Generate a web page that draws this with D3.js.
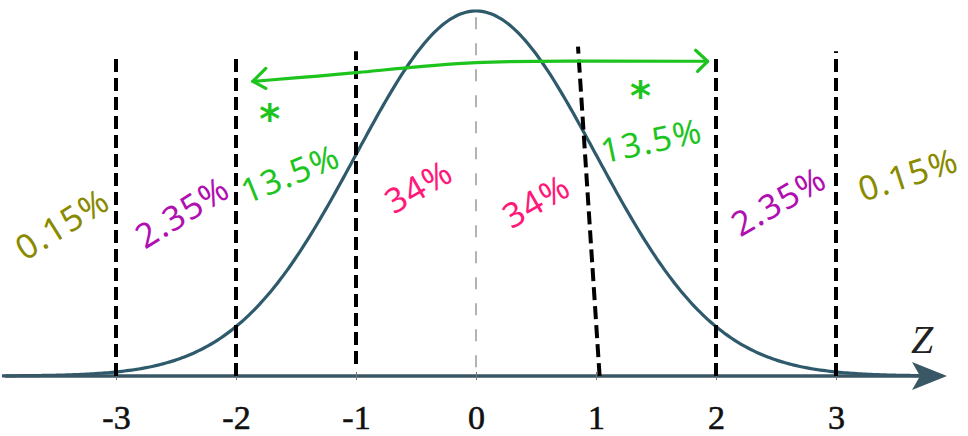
<!DOCTYPE html>
<html>
<head>
<meta charset="utf-8">
<script src="https://cdn.jsdelivr.net/npm/d3@7"></script>
<style>
  body { margin: 0; background: #fff; }
  svg { display: block; }
  .tick-label { font-family: "Liberation Serif", "DejaVu Serif", serif; font-size: 34px; fill: #111; stroke: #111; stroke-width: 0.6px; }
  .note { font-family: "Noto Sans", sans-serif; font-size: 34px; letter-spacing: 1.5px; }
</style>
</head>
<body>
<svg width="968" height="436"></svg>
<script>
var ticks = [-3, -2, -1, 0, 1, 2, 3];

// dashed boundaries: bottom z, top z, top density
var cutBottom = [-3, -2, -1, 1.03, 2, 3];
var cutTop    = [-3, -2, -1, 0.85, 2, 3];
var cutTopY   = [0.347, 0.347, 0.355, 0.360, 0.350, 0.355];

var noteText  = ['0.15%', '2.35%', '13.5%', '34%', '34%', '13.5%', '2.35%', '0.15%'];
var noteZ     = [-3.45, -2.45, -1.55, -0.48, 0.5, 1.46, 2.52, 3.6];
var noteY     = [0.167, 0.180, 0.222, 0.208, 0.192, 0.258, 0.192, 0.221];
var noteAngle = [-32, -32, -22, -30, -30, -12, -30, -18];
var noteColor = ['#8a8a00', '#b010b0', '#1ec41e', '#ff1a7a', '#ff1a7a', '#1ec41e', '#b010b0', '#8a8a00'];

var starZ = [-1.72, 1.37];
var starY = [0.281, 0.306];

var arrowZ = [-1.86, -1.0, 0.0, 1.0, 1.93];
var arrowY = [0.322, 0.331, 0.345, 0.344, 0.344];

var svg = d3.select('svg');

var x = d3.scaleLinear().domain([-3, 3]).range([116, 836]);
var y = d3.scaleLinear().domain([0, 0.39894]).range([376, 11]);

var pdf = z => Math.exp(-z * z / 2) / Math.sqrt(2 * Math.PI);

// centre line
svg.append('line')
  .attr('x1', x(0)).attr('x2', x(0))
  .attr('y1', y(0.392)).attr('y2', y(0))
  .attr('stroke', '#999')
  .attr('stroke-width', 1.5)
  .attr('stroke-dasharray', '12,14');

// bell curve
var curvePts = d3.range(-3.95, 3.9, 0.02).map(z => [z, pdf(z)]);
svg.append('path')
  .datum(curvePts)
  .attr('d', d3.line().x(d => x(d[0])).y(d => y(d[1])))
  .attr('fill', 'none')
  .attr('stroke', '#2f5a6c')
  .attr('stroke-width', 3.2);

// axis
svg.append('line')
  .attr('x1', 5).attr('x2', 922)
  .attr('y1', y(0)).attr('y2', y(0))
  .attr('stroke', '#3a5766')
  .attr('stroke-width', 3.5);
svg.append('path')
  .attr('d', 'M947,' + y(0) + 'L912,' + (y(0) - 14) + 'L920,' + y(0) + 'L912,' + (y(0) + 14) + 'Z')
  .attr('fill', '#3a5766');

var xAxis = d3.axisBottom(x).tickValues(ticks).tickSize(8).tickPadding(18).tickFormat(d3.format('d'));
var gx = svg.append('g')
  .attr('transform', 'translate(0,' + (y(0) - 4) + ')')
  .call(xAxis);
gx.select('.domain').remove();
gx.selectAll('.tick line').attr('stroke', '#777').attr('stroke-width', 1);
gx.selectAll('.tick text')
  .attr('class', 'tick-label')
  .attr('dy', '0.9em')
  .text(d => d < 0 ? '-' + Math.abs(d) : d);

svg.append('text')
  .attr('x', 911).attr('y', 353)
  .attr('font-family', '"Liberation Serif", serif')
  .attr('font-style', 'italic')
  .attr('font-size', 40)
  .attr('fill', '#222')
  .text('Z');

// black dashed cut lines
svg.selectAll('line.cut')
  .data(cutBottom)
  .enter()
  .append('line')
    .attr('class', 'cut')
    .attr('x1', d => x(d))
    .attr('y1', (d, i) => i === 2 ? y(0) - 12 : y(0))
    .attr('x2', (d, i) => x(cutTop[i]))
    .attr('y2', (d, i) => y(cutTopY[i]))
    .attr('stroke', '#000')
    .attr('stroke-width', 4)
    .attr('stroke-dasharray', '13,6');

// green double arrow
var arrowPts = arrowZ.map((z, i) => [x(z), y(arrowY[i])]);
svg.append('path')
  .attr('d', d3.line().curve(d3.curveBasis)(arrowPts))
  .attr('fill', 'none')
  .attr('stroke', '#1ec41e')
  .attr('stroke-width', 3.2)
  .attr('stroke-linecap', 'round');

var left = arrowPts[0], right = arrowPts[arrowPts.length - 1];
svg.append('path')
  .attr('d', 'M' + (left[0] + 13) + ',' + (left[1] - 13) + 'L' + left[0] + ',' + left[1] + 'L' + (left[0] + 13) + ',' + (left[1] + 7))
  .attr('fill', 'none').attr('stroke', '#1ec41e').attr('stroke-width', 3.2)
  .attr('stroke-linecap', 'round').attr('stroke-linejoin', 'round');
svg.append('path')
  .attr('d', 'M' + (right[0] - 12) + ',' + (right[1] - 11) + 'L' + right[0] + ',' + right[1] + 'L' + (right[0] - 10) + ',' + (right[1] + 10))
  .attr('fill', 'none').attr('stroke', '#1ec41e').attr('stroke-width', 3.2)
  .attr('stroke-linecap', 'round').attr('stroke-linejoin', 'round');

// stars
svg.selectAll('text.star')
  .data(starZ)
  .enter()
  .append('text')
    .attr('class', 'star')
    .attr('x', d => x(d))
    .attr('y', (d, i) => y(starY[i]))
    .attr('text-anchor', 'middle')
    .attr('dominant-baseline', 'central')
    .attr('font-family', '"DejaVu Sans", sans-serif')
    .attr('font-weight', 'bold')
    .attr('font-size', 40)
    .attr('fill', '#1ec41e')
    .text('*');

// percentage notes
svg.selectAll('text.note')
  .data(noteText)
  .enter()
  .append('text')
    .attr('class', 'note')
    .attr('text-anchor', 'middle')
    .attr('dominant-baseline', 'central')
    .attr('transform', (d, i) => 'translate(' + x(noteZ[i]) + ',' + y(noteY[i]) + ') rotate(' + noteAngle[i] + ')')
    .attr('fill', (d, i) => noteColor[i])
    .text(d => d);
</script>
</body>
</html>
